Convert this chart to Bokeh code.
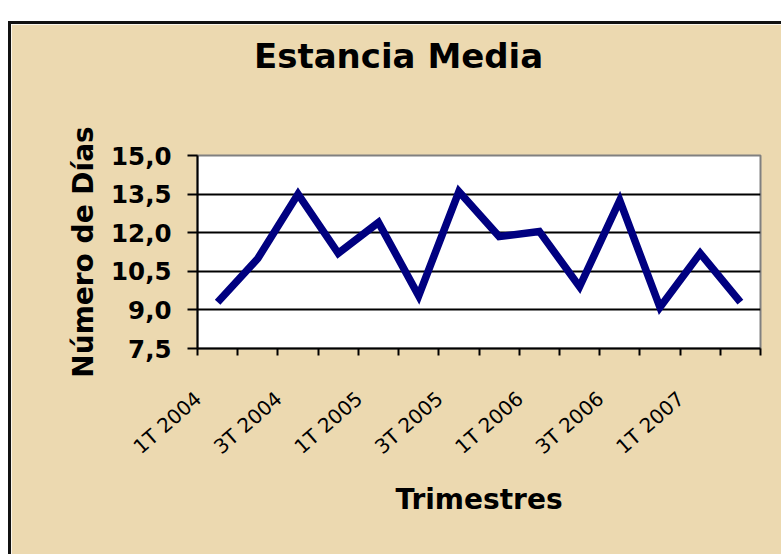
from bokeh.plotting import figure
from bokeh.models import Range1d, FixedTicker, LinearAxis
from bokeh.embed import file_html
from bokeh.resources import INLINE

# ---- data ----
chart_title = "Estancia Media"
quarters = ["1T 2004", "2T 2004", "3T 2004", "4T 2004",
            "1T 2005", "2T 2005", "3T 2005", "4T 2005",
            "1T 2006", "2T 2006", "3T 2006", "4T 2006",
            "1T 2007", "2T 2007"]
estancia = [9.3, 11.0, 13.5, 11.2, 12.4, 9.55, 13.6, 11.85,
            12.05, 9.9, 13.25, 9.1, 11.2, 9.3]
y_ticks = [7.5, 9.0, 10.5, 12.0, 13.5, 15.0]
y_tick_labels = ["7,5", "9,0", "10,5", "12,0", "13,5", "15,0"]
x_tick_labels = ["1T 2004", "3T 2004", "1T 2005", "3T 2005",
                 "1T 2006", "3T 2006", "1T 2007"]

BG = "#ecd9b0"
FONT = "DejaVu Sans"

p = figure(width=773, height=533, output_backend="svg", toolbar_location=None,
           x_range=Range1d(0, len(quarters)), y_range=Range1d(7.5, 15.0),
           min_border_left=186, min_border_right=24,
           min_border_top=131, min_border_bottom=209)
p.styles = {"border-top": "3px solid #111111", "border-left": "3px solid #111111",
            "margin-top": "21px", "margin-left": "8px"}

p.background_fill_color = "white"
p.border_fill_color = BG
p.outline_line_color = "#808080"
p.outline_line_width = 2

x_pos = [i + 0.5 for i in range(len(quarters))]
p.line(x_pos, estancia, line_color="#000080", line_width=7.5, line_join="miter")

# y axis
yax = p.yaxis[0]
yax.ticker = FixedTicker(ticks=y_ticks)
yax.major_label_overrides = dict(zip(y_ticks, y_tick_labels))
yax.major_label_text_font = FONT
yax.major_label_text_font_size = "24.5px"
yax.major_label_text_font_style = "bold"
yax.major_label_text_color = "black"
yax.major_tick_out = 10
yax.major_tick_in = 0
yax.major_label_standoff = 16
yax.minor_tick_line_color = None
yax.axis_line_width = 2
yax.major_tick_line_width = 2
yax.axis_label = "Número de Días"
yax.axis_label_text_font = FONT
yax.axis_label_text_font_size = "28px"
yax.axis_label_text_font_style = "bold"
yax.axis_label_text_color = "black"
yax.axis_label_standoff = 8

# x axis: minor ticks on category boundaries, labels every second quarter
xax = p.xaxis[0]
label_shift = 0.02
label_pos = [i + label_shift for i in range(0, len(quarters), 2)]
xax.ticker = FixedTicker(ticks=label_pos, minor_ticks=list(range(len(quarters) + 1)))
xax.major_label_overrides = {pos: t for pos, t in zip(label_pos, x_tick_labels)}
xax.major_label_orientation = 0.72
xax.major_label_text_font = FONT
xax.major_label_text_font_size = "20px"
xax.major_label_text_color = "black"
xax.major_label_standoff = 40
xax.major_tick_line_color = None
xax.major_tick_out = 0
xax.major_tick_in = 0
xax.minor_tick_line_color = "black"
xax.minor_tick_line_width = 2
xax.minor_tick_out = 7
xax.minor_tick_in = 0
xax.axis_line_width = 2
xax.axis_label = "Trimestres"
xax.axis_label_text_font = FONT
xax.axis_label_text_font_size = "28px"
xax.axis_label_text_font_style = "bold"
xax.axis_label_text_color = "black"
xax.axis_label_standoff = 12

# chart title, drawn as the single label of an invisible axis above the frame
title_x = 5.0
title_axis = LinearAxis(ticker=FixedTicker(ticks=[title_x]),
                        major_label_overrides={title_x: chart_title},
                        major_label_text_font=FONT,
                        major_label_text_font_size="34px",
                        major_label_text_font_style="bold",
                        major_label_text_color="black",
                        major_label_standoff=80,
                        axis_line_color=None, major_tick_line_color=None,
                        minor_tick_line_color=None,
                        major_tick_out=0, major_tick_in=0)
p.add_layout(title_axis, "above")

p.xgrid.grid_line_color = None
p.ygrid.ticker = FixedTicker(ticks=y_ticks[1:-1])
p.ygrid.grid_line_color = "black"
p.ygrid.grid_line_width = 2

open("out.html", "w").write(file_html(p, INLINE))
